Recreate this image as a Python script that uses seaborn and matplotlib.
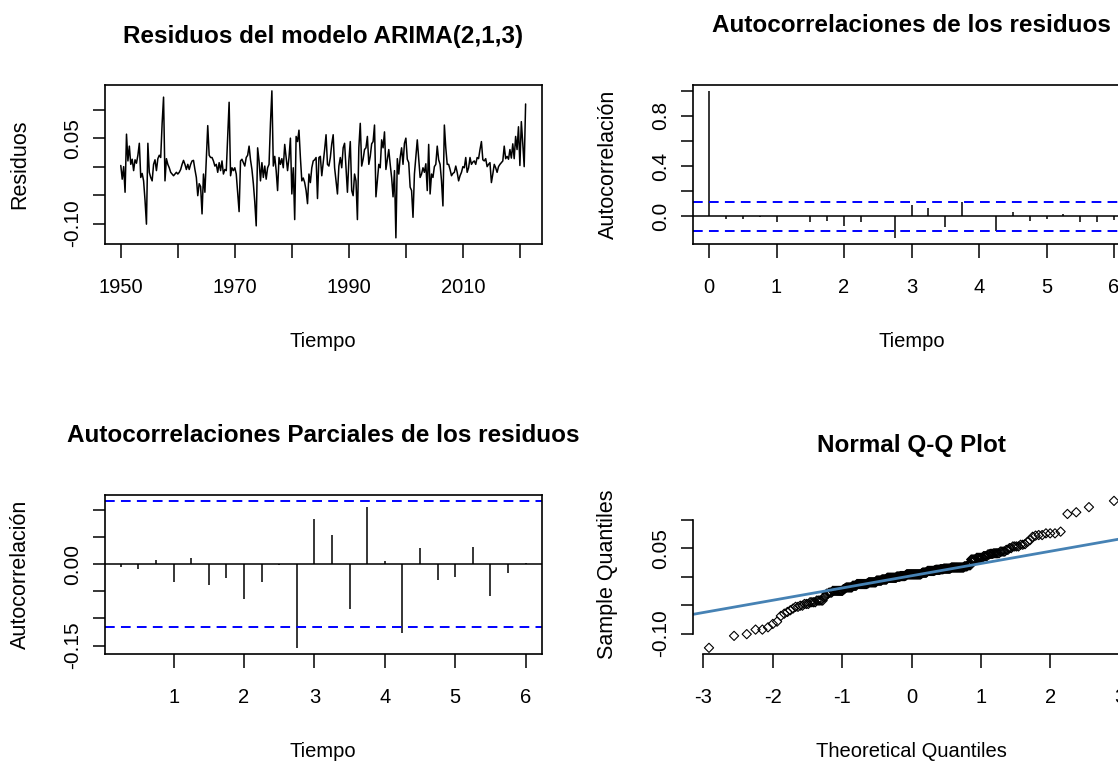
import numpy as np
import matplotlib
matplotlib.use("Agg")
import matplotlib.pyplot as plt
import seaborn as sns
from statistics import NormalDist

# residuos trimestrales del ARIMA(2,1,3), desde 1950 T1
residuos = [
    0.002, -0.022, 0.000, -0.045, 0.057, 0.010, 0.036, 0.004, 0.013, -0.007,
    0.012, 0.006, 0.020, 0.041, -0.019, -0.012, -0.025, -0.059, -0.101, 0.041,
    -0.010, -0.019, -0.025, 0.004, 0.012, -0.007, 0.014, 0.020, 0.016, 0.076,
    0.122, -0.025, 0.014, 0.004, -0.002, -0.010, -0.013, -0.016, -0.013, -0.010,
    -0.013, -0.010, -0.005, 0.004, 0.011, 0.004, -0.005, 0.004, -0.005, 0.004,
    0.010, 0.011, -0.005, -0.019, -0.051, -0.030, -0.035, -0.083, -0.013, -0.045,
    0.014, 0.072, 0.020, 0.016,
    0.016, 0.010, 0.001, 0.004, -0.010, 0.007, -0.007, 0.010, -0.013, -0.005,
    -0.007, 0.053, 0.113, -0.016, -0.002, -0.007, -0.002, -0.013, -0.045, -0.079,
    0.010, 0.013, 0.007, 0.001, 0.016, 0.020, 0.036, 0.012, -0.005, -0.030,
    -0.062, -0.104, 0.033, 0.010, -0.025, 0.007, -0.019, 0.001, -0.022, -0.002,
    0.004, 0.076, 0.133, 0.001, 0.018, -0.007, -0.042, 0.016, 0.004, 0.014,
    -0.002, 0.039, 0.016, -0.007, 0.016, 0.050, -0.048, -0.002, -0.093, 0.053,
    0.044, 0.064, 0.016, -0.025, -0.020, -0.028, -0.042, -0.065, -0.013, -0.028,
    -0.002, 0.010, 0.012, 0.016, -0.056, 0.016, 0.018, -0.016, 0.007, 0.030,
    0.056, 0.004, 0.001, 0.016, 0.040, 0.056, -0.002, -0.025, -0.048, 0.001,
    0.016, -0.002, 0.033, 0.041, -0.002, -0.045, 0.010, 0.044, -0.042, -0.051,
    -0.013, -0.025, -0.093, 0.033, 0.076, 0.001, 0.013, 0.030, 0.033, 0.053,
    0.004, 0.018, 0.040, 0.044, 0.073, -0.053, -0.025, 0.004, -0.002, 0.047,
    0.033, 0.061, -0.005, 0.012, 0.030, 0.004, -0.019, -0.053, -0.007, -0.125,
    0.014, -0.013, 0.016, 0.033, 0.004, 0.041, 0.050, 0.013, 0.007,
    -0.036, -0.042, -0.089, -0.013, 0.016, 0.047, 0.014, -0.019, -0.013, -0.002,
    -0.010, 0.005, -0.042, 0.039, -0.048, -0.013, -0.019, 0.000, 0.004, 0.036,
    0.012, 0.004, -0.025, -0.069, 0.073, 0.033, 0.004, 0.004, -0.005, -0.016,
    -0.012, -0.010, 0.001, -0.010, -0.025, -0.016, -0.010, 0.000, -0.002, 0.016,
    -0.010, -0.002, 0.016, 0.004, 0.008, 0.010, 0.004, 0.016, 0.014, 0.030,
    0.044, 0.012, 0.010, 0.014, 0.000, 0.004, 0.007, -0.028, -0.013, 0.004,
    -0.002, -0.010, 0.000, 0.004, 0.007, 0.010, 0.036, 0.014, 0.018, 0.013,
    0.030, 0.015, 0.040, 0.014, 0.053, 0.030, 0.070, 0.002, 0.079, 0.041,
    0.000, 0.110,
]
anio_inicio = 1950
frecuencia = 4

acf_lags = [0, 0.25, 0.5, 0.75, 1, 1.25, 1.5, 1.75, 2, 2.25, 2.5, 2.75, 3,
            3.25, 3.5, 3.75, 4, 4.25, 4.5, 4.75, 5, 5.25, 5.5, 5.75, 6]
acf_vals = [1.0, -0.019, -0.022, -0.003, -0.046, 0.002, -0.046, -0.035, -0.078,
            -0.046, -0.002, -0.173, 0.089, 0.062, -0.089, 0.113, 0.003, -0.119,
            0.035, -0.035, -0.019, 0.019, -0.046, -0.046, -0.032]

pacf_lags = [0.25, 0.5, 0.75, 1, 1.25, 1.5, 1.75, 2, 2.25, 2.5, 2.75, 3,
             3.25, 3.5, 3.75, 4, 4.25, 4.5, 4.75, 5, 5.25, 5.5, 5.75, 6]
pacf_vals = [-0.005, -0.010, 0.008, -0.033, 0.011, -0.039, -0.026, -0.064,
             -0.033, -0.001, -0.154, 0.082, 0.054, -0.083, 0.104, 0.005, -0.126,
             0.030, -0.029, -0.023, 0.032, -0.058, -0.017, 0.002]

sns.set_style("ticks")
plt.rcParams["font.family"] = ["Liberation Sans", "DejaVu Sans"]
plt.rcParams["axes.linewidth"] = 1.2
plt.rcParams["text.color"] = "black"
plt.rcParams["axes.labelcolor"] = "black"
plt.rcParams["xtick.color"] = "black"
plt.rcParams["ytick.color"] = "black"
plt.rcParams["axes.edgecolor"] = "black"

W, H = 1118, 763
fig = plt.figure(figsize=(W / 100, H / 100), dpi=100)


def px_axes(x0, x1, y0, y1):
    return fig.add_axes([x0 / W, 1 - y1 / H, (x1 - x0) / W, (y1 - y0) / H])


def rlim(lo, hi):
    d = (hi - lo) * 0.04
    return lo - d, hi + d


def estilo(ax, xticks, yticks, xlab_show, ylab_show, xfmt, yfmt):
    ax.set_xticks(xticks)
    ax.set_yticks(yticks)
    ax.set_xticklabels([xfmt(v) if v in xlab_show else "" for v in xticks], fontsize=14.5)
    ax.set_yticklabels([yfmt(v) if v in ylab_show else "" for v in yticks],
                       fontsize=15, rotation=90, va="center")
    ax.tick_params(axis="x", direction="out", length=10, width=1.1, pad=15, colors="black")
    ax.tick_params(axis="y", direction="out", length=9, width=1.1, pad=7, colors="black")
    ax.set_xlabel("")
    ax.set_ylabel("")


def titulo(x, y, txt):
    fig.text(x / W, 1 - y / H, txt, ha="center", va="baseline", fontsize=17.5,
             fontweight="bold")


def etiqueta_x(x, y, txt):
    fig.text(x / W, 1 - y / H, txt, ha="center", va="baseline", fontsize=14.5)


def etiqueta_y(x, y, txt):
    fig.text(x / W, 1 - y / H, txt, ha="center", va="center", fontsize=15.5,
             rotation=90)


n = len(residuos)
res = np.array(residuos)
tiempo = anio_inicio + np.arange(n) / frecuencia
banda = 1.96 / np.sqrt(n)

LX0, LX1 = 104.6, 541.8
RX0, RX1 = 692.8, 1130.2
TY0, TY1 = 85.0, 243.7
BY0, BY1 = 495.0, 653.7

# --- residuos ---
ax1 = px_axes(LX0, LX1, TY0, TY1)
sns.lineplot(x=tiempo, y=res, color="black", lw=1.1, ax=ax1)
ax1.set_xlim(*rlim(tiempo.min(), tiempo.max()))
ax1.set_ylim(*rlim(res.min(), res.max()))
estilo(ax1, [1950, 1960, 1970, 1980, 1990, 2000, 2010, 2020],
       [-0.10, -0.05, 0.0, 0.05, 0.10], [1950, 1970, 1990, 2010], [-0.10, 0.05],
       lambda v: "%d" % v, lambda v: "%.2f" % v)
titulo(323, 43.3, "Residuos del modelo ARIMA(2,1,3)")
etiqueta_x(323, 347, "Tiempo")
etiqueta_y(20, (TY0 + TY1) / 2, "Residuos")

# --- ACF ---
ax2 = px_axes(RX0, RX1, TY0, TY1)
ax2.vlines(acf_lags, 0, acf_vals, color="black", lw=1.1)
ax2.axhline(0, color="black", lw=1.1)
for b in (banda, -banda):
    ax2.axhline(b, color="blue", lw=1.4, ls=(0, (5, 3.2)))
ax2.set_xlim(*rlim(min(acf_lags), max(acf_lags)))
ax2.set_ylim(*rlim(min(min(acf_vals), -banda), max(max(acf_vals), banda)))
estilo(ax2, [0, 1, 2, 3, 4, 5, 6], [0.0, 0.2, 0.4, 0.6, 0.8, 1.0],
       [0, 1, 2, 3, 4, 5, 6], [0.0, 0.4, 0.8],
       lambda v: "%d" % v, lambda v: "%.1f" % v)
titulo(911.5, 32.5, "Autocorrelaciones de los residuos")
etiqueta_x(911.5, 347, "Tiempo")
etiqueta_y(608, (TY0 + TY1) / 2, "Autocorrelación")

# --- PACF ---
ax3 = px_axes(LX0, LX1, BY0, BY1)
ax3.vlines(pacf_lags, 0, pacf_vals, color="black", lw=1.1)
ax3.axhline(0, color="black", lw=1.1)
for b in (banda, -banda):
    ax3.axhline(b, color="blue", lw=1.4, ls=(0, (5, 3.2)))
ax3.set_xlim(*rlim(min(pacf_lags), max(pacf_lags)))
ax3.set_ylim(*rlim(min(min(pacf_vals), -banda), max(max(pacf_vals), banda)))
estilo(ax3, [1, 2, 3, 4, 5, 6], [-0.15, -0.10, -0.05, 0.0, 0.05, 0.10],
       [1, 2, 3, 4, 5, 6], [-0.15, 0.0],
       lambda v: "%d" % v, lambda v: "%.2f" % v)
titulo(323, 442, "Autocorrelaciones Parciales de los residuos")
etiqueta_x(323, 757, "Tiempo")
etiqueta_y(20, (BY0 + BY1) / 2, "Autocorrelación")

# --- Q-Q normal ---
nd = NormalDist()
muestra = np.sort(res)
teo = np.array([nd.inv_cdf((i - 0.5) / n) for i in range(1, n + 1)])
ax4 = px_axes(RX0, RX1, BY0, BY1)
sns.scatterplot(x=teo, y=muestra, marker="D", s=22, linewidth=0.8, ax=ax4)
pts = ax4.collections[-1]
pts.set_facecolor("none")
pts.set_edgecolor("black")
q1, q3 = np.quantile(muestra, [0.25, 0.75])
z1, z3 = nd.inv_cdf(0.25), nd.inv_cdf(0.75)
pend = (q3 - q1) / (z3 - z1)
ax4.axline((z1, q1), slope=pend, color="steelblue", lw=2)
ax4.set_xlim(*rlim(teo.min(), teo.max()))
ax4.set_ylim(*rlim(muestra.min(), muestra.max()))
estilo(ax4, [-3, -2, -1, 0, 1, 2, 3], [-0.10, -0.05, 0.0, 0.05, 0.10],
       [-3, -2, -1, 0, 1, 2, 3], [-0.10, 0.05],
       lambda v: "%d" % v, lambda v: "%.2f" % v)
ax4.spines["top"].set_visible(False)
ax4.spines["right"].set_visible(False)
ax4.spines["left"].set_bounds(-0.10, 0.10)
ax4.spines["bottom"].set_bounds(-3, 3)
titulo(911.5, 451.7, "Normal Q-Q Plot")
etiqueta_x(911.5, 757, "Theoretical Quantiles")
etiqueta_y(608, (BY0 + BY1) / 2, "Sample Quantiles")

fig.savefig("out.png", dpi=100)
